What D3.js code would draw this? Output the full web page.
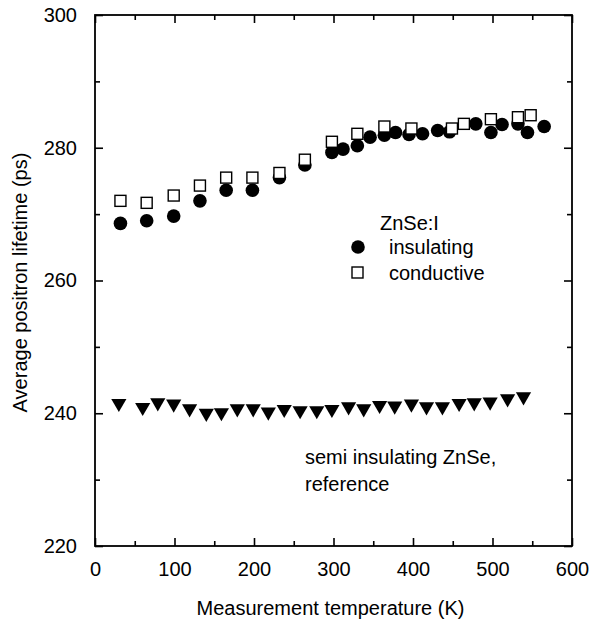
<!DOCTYPE html>
<html lang="en">
<head>
<meta charset="utf-8">
<script src="https://d3js.org/d3.v7.min.js"></script>
<style>
  body { margin: 0; background: #fff; }
  svg text { font-family: Arial, "Liberation Sans", Helvetica, sans-serif; fill: #000; }
</style>
</head>
<body>
<svg width="589" height="624"></svg>
<script>
// ZnSe:I insulating (filled circles)
var insulatingT = [32, 65, 99, 132, 165, 198, 232, 264, 298, 312, 330, 346, 364, 378, 395, 412, 431, 446, 479, 498, 512, 532, 544, 565];
var insulatingL = [268.6, 269.0, 269.7, 272.0, 273.6, 273.6, 275.5, 277.4, 279.3, 279.8, 280.3, 281.6, 281.9, 282.3, 282.0, 282.1, 282.6, 282.4, 283.6, 282.3, 283.5, 283.6, 282.3, 283.2];
// ZnSe:I conductive (open squares)
var conductiveT = [32, 65, 99, 132, 165, 198, 232, 264, 298, 330, 364, 398, 449, 464, 498, 532, 548];
var conductiveL = [272.0, 271.7, 272.8, 274.3, 275.5, 275.5, 276.2, 278.2, 280.9, 282.1, 283.2, 282.9, 282.9, 283.6, 284.3, 284.6, 284.9];
// semi insulating ZnSe reference (down triangles)
var referenceT = [30, 60, 79, 99, 119, 140, 159, 179, 199, 218, 238, 258, 279, 298, 319, 338, 358, 377, 398, 417, 437, 458, 477, 497, 519, 539];
var referenceL = [241.5, 240.9, 241.6, 241.4, 240.7, 240.0, 240.1, 240.7, 240.7, 240.2, 240.6, 240.4, 240.4, 240.6, 241.0, 240.7, 241.2, 241.1, 241.4, 241.0, 241.0, 241.5, 241.6, 241.7, 242.2, 242.5];

var xTicks = [0, 100, 200, 300, 400, 500, 600];
var yTicks = [220, 240, 260, 280, 300];

// plot box (window.top is reserved, so use own names)
var pLeft = 95, pRight = 572, pTop = 15, pBottom = 546;
var fs = "20px";
var svg = d3.select("svg");

var x = d3.scaleLinear().domain([0, 600]).range([pLeft, pRight]);
var y = d3.scaleLinear().domain([220, 300]).range([pBottom, pTop]);

function zip(a, b) { return a.map(function (d, i) { return [d, b[i]]; }); }

// axes - ticks point inward on all four sides
function styleAxis(g) {
    g.select(".domain").remove();
    g.selectAll("line").attr("stroke", "#000").attr("stroke-width", 1.6);
    g.selectAll("text").style("font-size", fs).attr("fill", "#000");
}
var xMinor = d3.range(50, 600, 100);
var yMinor = d3.range(230, 300, 20);

svg.append("g").attr("transform", "translate(0," + pBottom + ")")
    .call(d3.axisBottom(x).tickValues(xTicks).tickSize(-8).tickPadding(16).tickFormat(d3.format("d")))
    .call(styleAxis);
svg.append("g").attr("transform", "translate(0," + pBottom + ")")
    .call(d3.axisBottom(x).tickValues(xMinor).tickSize(-5).tickFormat(""))
    .call(styleAxis);
svg.append("g").attr("transform", "translate(0," + pTop + ")")
    .call(d3.axisTop(x).tickValues(xTicks).tickSize(-8).tickFormat(""))
    .call(styleAxis);
svg.append("g").attr("transform", "translate(0," + pTop + ")")
    .call(d3.axisTop(x).tickValues(xMinor).tickSize(-5).tickFormat(""))
    .call(styleAxis);

svg.append("g").attr("transform", "translate(" + pLeft + ",0)")
    .call(d3.axisLeft(y).tickValues(yTicks).tickSize(-8).tickPadding(18).tickFormat(d3.format("d")))
    .call(styleAxis);
svg.append("g").attr("transform", "translate(" + pLeft + ",0)")
    .call(d3.axisLeft(y).tickValues(yMinor).tickSize(-5).tickFormat(""))
    .call(styleAxis);
svg.append("g").attr("transform", "translate(" + pRight + ",0)")
    .call(d3.axisRight(y).tickValues(yTicks).tickSize(-8).tickFormat(""))
    .call(styleAxis);
svg.append("g").attr("transform", "translate(" + pRight + ",0)")
    .call(d3.axisRight(y).tickValues(yMinor).tickSize(-5).tickFormat(""))
    .call(styleAxis);

// frame
svg.append("rect")
    .attr("x", pLeft).attr("y", pTop)
    .attr("width", pRight - pLeft).attr("height", pBottom - pTop)
    .attr("fill", "none").attr("stroke", "#000").attr("stroke-width", 1.8);

// axis titles
svg.append("text")
    .attr("x", (pLeft + pRight) / 2 - 3).attr("y", 615)
    .attr("text-anchor", "middle").style("font-size", fs)
    .text("Measurement temperature (K)");
svg.append("text")
    .attr("transform", "translate(27," + ((pTop + pBottom) / 2 + 2) + ") rotate(-90)")
    .attr("text-anchor", "middle").style("font-size", fs)
    .text("Average positron lifetime (ps)");

// data markers
svg.append("g").selectAll("circle")
    .data(zip(insulatingT, insulatingL))
    .join("circle")
    .attr("cx", function (d) { return x(d[0]); })
    .attr("cy", function (d) { return y(d[1]); })
    .attr("r", 6.8)
    .attr("fill", "#000");

svg.append("g").selectAll("rect")
    .data(zip(conductiveT, conductiveL))
    .join("rect")
    .attr("x", function (d) { return x(d[0]) - 5.5; })
    .attr("y", function (d) { return y(d[1]) - 5.5; })
    .attr("width", 11).attr("height", 11)
    .attr("fill", "#fff").attr("stroke", "#000").attr("stroke-width", 1.4);

var tri = d3.symbol().type(d3.symbolTriangle).size(100);
svg.append("g").selectAll("path")
    .data(zip(referenceT, referenceL))
    .join("path")
    .attr("d", tri)
    .attr("transform", function (d) { return "translate(" + x(d[0]) + "," + y(d[1]) + ") rotate(180)"; })
    .attr("fill", "#000");

// legend
svg.append("text").attr("x", 380).attr("y", 230).style("font-size", fs).text("ZnSe:I");
svg.append("circle").attr("cx", 358).attr("cy", 247).attr("r", 6.8).attr("fill", "#000");
svg.append("text").attr("x", 389).attr("y", 254).style("font-size", fs).text("insulating");
svg.append("rect").attr("x", 352).attr("y", 267).attr("width", 11).attr("height", 11)
    .attr("fill", "#fff").attr("stroke", "#000").attr("stroke-width", 1.4);
svg.append("text").attr("x", 389).attr("y", 280).style("font-size", fs).text("conductive");

svg.append("text").attr("x", 305).attr("y", 464).style("font-size", fs).text("semi insulating ZnSe,");
svg.append("text").attr("x", 305).attr("y", 491).style("font-size", fs).text("reference");
</script>
</body>
</html>
